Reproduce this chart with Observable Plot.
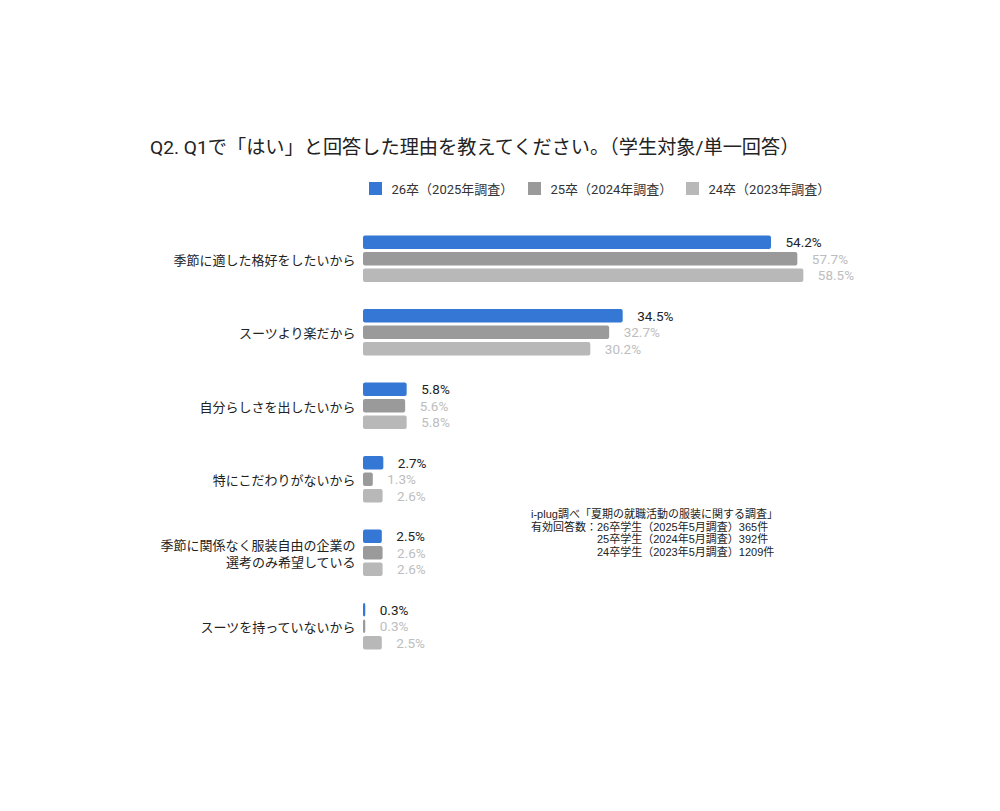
<!DOCTYPE html>
<html>
<head>
<meta charset="utf-8">
<script src="https://cdn.jsdelivr.net/npm/d3@7"></script>
<script src="https://cdn.jsdelivr.net/npm/@observablehq/plot@0.6"></script>
<style>
  html, body { margin: 0; padding: 0; background: #fff; }
  #wrap { position: relative; width: 1000px; height: 811px; overflow: hidden; font-family: Roboto, "Noto Sans CJK JP", sans-serif; color: #222; }
  #title { position: absolute; left: 150px; top: 132px; font-size: 19.2px; white-space: nowrap; color: #222; }
  .leg { position: absolute; top: 179px; display: flex; align-items: center; font-size: 13px; white-space: nowrap; color: #333; }
  .sw { width: 12.5px; height: 12.5px; margin-right: 10px; }
  #chart { position: absolute; left: 0; top: 215px; }
  #note { position: absolute; left: 531px; top: 508px; font-family: "Liberation Sans", "Noto Sans CJK JP", sans-serif; font-size: 11px; line-height: 12.7px; color: #222; white-space: nowrap; }
  #note .row { display: flex; }
</style>
</head>
<body>
<div id="wrap">
  <div id="title"></div>
  <div id="legend"></div>
  <div id="chart"></div>
  <div id="note"></div>
</div>
<script>
const title = "Q2. Q1で「はい」と回答した理由を教えてください。（学生対象/単一回答）";
const categories = [
  "季節に適した格好をしたいから",
  "スーツより楽だから",
  "自分らしさを出したいから",
  "特にこだわりがないから",
  "季節に関係なく服装自由の企業の\n選考のみ希望している",
  "スーツを持っていないから"
];
const series = ["26卒（2025年調査）", "25卒（2024年調査）", "24卒（2023年調査）"];
const values26 = [54.2, 34.5, 5.8, 2.7, 2.5, 0.3];
const values25 = [57.7, 32.7, 5.6, 1.3, 2.6, 0.3];
const values24 = [58.5, 30.2, 5.8, 2.6, 2.6, 2.5];
const barColors = ["#3577d4", "#9a9a9a", "#b8b8b8"];
const labelColors = ["#222222", "#bdbdbd", "#bdbdbd"];
const noteSource = "i-plug調べ「夏期の就職活動の服装に関する調査」";
const noteLabel = "有効回答数：";
const noteLines = ["26卒学生（2025年5月調査）365件", "25卒学生（2024年5月調査）392件", "24卒学生（2023年5月調査）1209件"];

const allValues = [values26, values25, values24];
const data = [];
categories.forEach((c, i) => {
  series.forEach((s, j) => {
    data.push({category: c, series: s, si: j, value: allValues[j][i]});
  });
});

document.getElementById("title").textContent = title;

const legendLefts = [369, 528, 686];
const legend = document.getElementById("legend");
series.forEach((s, j) => {
  const item = document.createElement("div");
  item.className = "leg";
  item.style.left = legendLefts[j] + "px";
  const sw = document.createElement("div");
  sw.className = "sw";
  sw.style.background = barColors[j];
  const t = document.createElement("span");
  t.textContent = s;
  item.appendChild(sw);
  item.appendChild(t);
  legend.appendChild(item);
});

const note = document.getElementById("note");
const l1 = document.createElement("div");
l1.textContent = noteSource;
note.appendChild(l1);
const row = document.createElement("div");
row.className = "row";
const lab = document.createElement("div");
lab.textContent = noteLabel;
const col = document.createElement("div");
noteLines.forEach(l => { const d = document.createElement("div"); d.textContent = l; col.appendChild(d); });
row.appendChild(lab);
row.appendChild(col);
note.appendChild(row);

const chart = Plot.plot({
  width: 1000,
  height: 460,
  marginLeft: 363,
  marginRight: 34.8,
  marginTop: 20.5,
  marginBottom: 25.5,
  style: {fontFamily: 'Roboto, "Noto Sans CJK JP", sans-serif', background: "transparent"},
  x: {domain: [0, 80], axis: null},
  y: {domain: series, paddingInner: 0.18, paddingOuter: 0, axis: null, round: false},
  fy: {domain: categories, paddingInner: 0.367, paddingOuter: 0, round: false, label: null, axis: null},
  color: {type: "identity"},
  marks: [
    Plot.barX(data, {x: "value", y: "series", fy: "category", fill: d => barColors[d.si], rx: 2}),
    Plot.text(data, {x: "value", y: "series", fy: "category", text: d => d.value.toFixed(1) + "%", textAnchor: "start", dx: 14, fill: d => labelColors[d.si], fontSize: 13.5}),
    Plot.axisFy({anchor: "left", tickSize: 0, tickPadding: 8, fontSize: 13, lineHeight: 1.3, fill: "#222", label: null})
  ]
});
document.getElementById("chart").appendChild(chart);
</script>
</body>
</html>
